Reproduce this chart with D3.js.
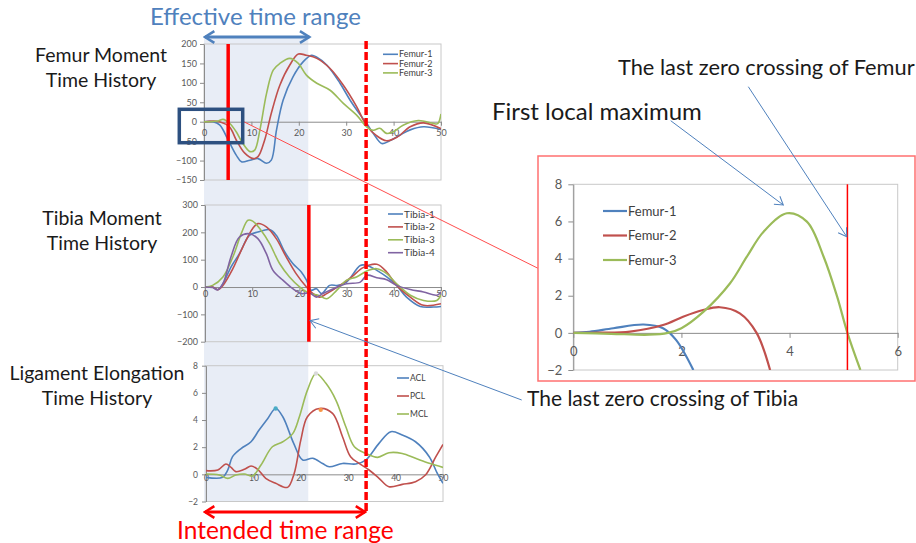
<!DOCTYPE html>
<html>
<head>
<meta charset="utf-8">
<script src="https://cdn.jsdelivr.net/npm/d3@7"></script>
<style>
body { margin: 0; background: #fff; }
text { font-family: Lato, "Liberation Sans", sans-serif; }
</style>
</head>
<body>
<div id="chart"></div>
<script>
// ---- data: [time, value] ----
var timeTicks = [0, 10, 20, 30, 40, 50];

var femurNames = ["Femur-1", "Femur-2", "Femur-3"];
var femurTicks = [-150, -100, -50, 0, 50, 100, 150, 200];
var femur1 = [[0,0],[1.9,0],[3.3,-8],[5.1,-47],[6.8,-86],[7.9,-103],[9.7,-99],[11.4,-95],[13.2,-107],[14.2,-99],[15.3,-21],[16.7,56],[18.8,116],[20.9,154],[22.7,171],[23.8,166],[25.9,146],[28.7,99],[30.8,56],[33.0,17],[34.3,-4],[35.7,-30],[37.5,-56],[38.9,-51],[41.4,-34],[43.5,-21],[46.3,-13],[50,-20]];
var femur2 = [[0,0],[3.3,0],[5.4,-14],[6.8,-47],[8.6,-81],[10.4,-95],[11.4,-90],[12.8,-47],[14.2,22],[16.0,94],[18.1,146],[19.9,174],[21.6,171],[23.8,163],[26.6,137],[29.4,94],[32.2,39],[34.3,-10],[36.4,-36],[38.5,-49],[40.7,-40],[43.5,-13],[46.3,-3],[50,-18]];
var femur3 = [[0,0],[3,2],[4,6],[5.4,-4],[6.8,-26],[8.2,-56],[9.7,-77],[10.7,-73],[11.8,-21],[13.2,73],[14.6,133],[16.0,150],[18.1,163],[19.9,150],[21.6,120],[23.8,99],[26.6,81],[29.4,47],[32.2,17],[34.3,-13],[35.7,-22],[37.1,-17],[38.5,-30],[39.9,-26],[42.0,-9],[45.2,3],[48.3,-4],[49.3,-5],[50,20]];

var tibiaNames = ["Tibia-1", "Tibia-2", "Tibia-3", "Tibia-4"];
var tibiaTicks = [-200, -100, 0, 100, 200, 300];
var tibia1 = [[0,0],[1.6,0],[2.7,-10],[3.8,12],[5.5,73],[7.3,122],[9.4,189],[11.2,201],[13.7,210],[15.1,189],[16.9,128],[18.6,86],[20.4,55],[21.5,25],[22.5,-12],[23.6,-6],[24.7,-24],[26.4,6],[28.2,6],[30.0,18],[32.9,79],[34.3,79],[36.4,61],[38.5,37],[40.6,6],[42.7,-37],[45.6,-71],[48.4,-73],[50,-71]];
var tibia2 = [[0,0],[1.6,0],[2.7,-10],[3.8,6],[5.9,67],[8.0,146],[10.1,214],[11.2,232],[13.0,220],[15.1,177],[17.2,110],[19.3,49],[21.5,0],[22.9,-24],[24.3,-37],[25.8,-24],[28.6,6],[31.1,37],[33.5,71],[36.4,83],[38.5,55],[40.6,6],[43.5,-37],[46.3,-67],[50,-61]];
var tibia3 = [[0,0],[1.6,6],[3.8,37],[5.9,110],[7.7,196],[9.1,244],[10.1,241],[11.9,207],[13.7,159],[15.8,86],[17.9,37],[20.1,0],[22.2,-24],[24.0,-30],[25.8,-43],[27.9,-12],[30.0,25],[32.1,37],[34.6,61],[36.4,67],[38.5,49],[40.6,12],[43.5,-30],[46.3,-49],[49.1,-49],[50,-30]];
var tibia4 = [[0,0],[1.6,-2],[2.7,-10],[3.8,12],[5.5,110],[7.3,183],[9.4,195],[11.2,177],[13.0,122],[14.4,61],[16.5,25],[18.6,-6],[20.4,-24],[22.2,-22],[23.6,-37],[25.0,-24],[27.2,-6],[30.0,12],[32.9,18],[34.3,43],[36.4,34],[38.5,27],[40.6,6],[43.5,-9],[46.3,-18],[49.1,-30],[50,-18]];

var ligNames = ["ACL", "PCL", "MCL"];
var ligTicks = [-2, 0, 2, 4, 6, 8];
var acl = [[0,-0.22],[3.5,-0.22],[4.6,0.32],[5.6,1.3],[7.4,1.9],[9.5,2.4],[11.2,3.26],[13.0,4.1],[14.7,4.85],[16.2,4.24],[18.5,2.28],[20.4,1.05],[22.5,1.18],[24.6,0.8],[26.0,0.56],[28.8,0.8],[31.6,0.76],[33.7,1.05],[36.5,2.28],[39.0,3.14],[41.4,2.9],[44.2,2.4],[47.1,1.3],[48.8,0.07],[50,-0.66]];
var pcl = [[0,0.27],[2.5,0.32],[4.2,0.76],[5.3,0.51],[6.3,0.2],[8.1,0.37],[9.5,0.61],[10.9,0.37],[12.6,-0.29],[14.7,-0.66],[17.2,-0.96],[18.6,0.07],[20.0,2.52],[21.4,4.24],[23.9,4.85],[26.7,4.49],[28.8,2.77],[30.5,1.3],[32.3,0.81],[34.4,0.32],[36.5,-0.29],[38.6,-0.91],[41.4,-0.74],[44.2,-0.54],[46.3,-0.05],[48.5,1.3],[50,2.2]];
var mcl = [[0,0.02],[2.8,-0.05],[4.6,-0.3],[6.3,-0.05],[8.1,0.02],[9.8,-0.12],[11.6,0.69],[14.0,2.03],[16.2,2.4],[18.3,3.0],[19.7,4.24],[21.4,6.2],[23.2,7.43],[25.3,6.7],[27.4,5.47],[29.5,3.5],[31.3,2.03],[33.7,1.54],[36.2,1.25],[38.6,1.59],[41.4,1.54],[44.2,1.18],[47.1,0.81],[50,0.51]];
var ligPeaks = [[14.7,4.85],[24.2,4.75],[23.2,7.43]];

// close-up of the first few time units of the femur moments
var zoomTimeTicks = [0, 2, 4, 6];
var zoomTicks = [-2, 0, 2, 4, 6, 8];
var zoomFemur1 = [[0,0],[0.3,0.06],[0.74,0.25],[1.3,0.45],[1.66,0.25],[1.9,-0.38],[2.22,-2]];
var zoomFemur2 = [[0,0],[0.5,0.01],[1.05,0.07],[1.66,0.42],[2.03,0.87],[2.4,1.23],[2.71,1.38],[3.08,1.05],[3.39,0],[3.64,-2]];
var zoomFemur3 = [[0,0],[0.7,-0.05],[1.4,-0.1],[1.75,0],[2.0,0.25],[2.41,1.14],[2.9,2.67],[3.21,4.1],[3.52,5.45],[3.95,6.44],[4.32,5.99],[4.63,4.1],[4.88,1.95],[5.07,0],[5.31,-2]];

var effectiveRange = [0, 22];
var intendedRange = [0, 34.2];
var femurZeroCross = 5.1;
var tibiaZeroCross = 22;
var zoomZeroCross = 5.07;

var colors = ["#4f81bd", "#c0504d", "#9bbb59", "#8064a2"];
var peakColors = ["#4bacc6", "#f79646", "#d9d9d9"];

var svg = d3.select('#chart').append('svg')
  .attr('width', 916)
  .attr('height', 543);

var defs = svg.append('defs');
function arrowMarker(id, color, size, sw) {
  defs.append('marker')
    .attr('id', id)
    .attr('viewBox', '-10 -6 12 12')
    .attr('refX', 0).attr('refY', 0)
    .attr('markerWidth', size).attr('markerHeight', size)
    .attr('markerUnits', 'userSpaceOnUse')
    .attr('orient', 'auto-start-reverse')
    .append('path')
    .attr('d', 'M-8,-5 L0,0 L-8,5')
    .attr('fill', 'none')
    .attr('stroke', color)
    .attr('stroke-width', sw);
}
arrowMarker('arrBlueBig', '#4f81bd', 14, 2.2);
arrowMarker('arrRedBig', '#ff0000', 14, 2.2);
arrowMarker('arrBlueThin', '#4f81bd', 12, 1);

// shaded effective range (drawn first, behind everything)
var shade = svg.append('rect')
  .attr('y', 38)
  .attr('height', 464)
  .attr('fill', '#e8edf6');

function drawPanel(cfg) {
  var x = d3.scaleLinear().domain(cfg.xDomain).range(cfg.xRange);
  var y = d3.scaleLinear().domain(cfg.yDomain).range(cfg.yRange);
  var g = svg.append('g');

  g.append('clipPath').attr('id', 'clip' + cfg.id)
    .append('rect')
    .attr('x', cfg.xRange[0]).attr('y', cfg.yRange[1])
    .attr('width', cfg.xRange[1] - cfg.xRange[0])
    .attr('height', cfg.yRange[0] - cfg.yRange[1]);

  g.append('rect')
    .attr('x', cfg.xRange[0]).attr('y', cfg.yRange[1])
    .attr('width', cfg.xRange[1] - cfg.xRange[0])
    .attr('height', cfg.yRange[0] - cfg.yRange[1])
    .attr('fill', 'none')
    .attr('stroke', '#c8c8c8');

  var yAxis = d3.axisLeft(y).tickValues(cfg.yTicks).tickFormat(d3.format('d'))
    .tickSize(cfg.tick).tickSizeOuter(0).tickPadding(cfg.yPad);
  var ya = g.append('g')
    .attr('transform', 'translate(' + cfg.xRange[0] + ',0)')
    .call(yAxis);

  var xAxis = d3.axisBottom(x).tickValues(cfg.xTicks).tickFormat(d3.format('d'))
    .tickSize(cfg.tick).tickSizeOuter(0).tickPadding(cfg.xPad);
  var xa = g.append('g')
    .attr('transform', 'translate(0,' + y(0) + ')')
    .call(xAxis);

  [ya, xa].forEach(function(a) {
    a.select('.domain').attr('stroke', '#8c8c8c');
    a.selectAll('.tick line').attr('stroke', '#8c8c8c');
    a.selectAll('.tick text')
      .attr('fill', '#595959')
      .style('font-size', cfg.tickFont + 'px');
  });

  var line = d3.line()
    .curve(d3.curveCatmullRom.alpha(0.5))
    .x(function(d) { return x(d[0]); })
    .y(function(d) { return y(d[1]); });

  g.append('g').attr('clip-path', 'url(#clip' + cfg.id + ')')
    .selectAll('path')
    .data(cfg.series)
    .enter()
    .append('path')
    .attr('d', function(d) { return line(d.values); })
    .attr('fill', 'none')
    .attr('stroke', function(d, i) { return colors[i]; })
    .attr('stroke-width', cfg.lw);

  // legend
  var lg = g.selectAll('.leg')
    .data(cfg.series)
    .enter()
    .append('g')
    .attr('transform', function(d, i) {
      return 'translate(' + cfg.legend[0] + ',' + (cfg.legend[1] + i * cfg.legend[2]) + ')';
    });
  lg.append('line')
    .attr('x1', 0).attr('x2', cfg.legend[3])
    .attr('stroke', function(d, i) { return colors[i]; })
    .attr('stroke-width', cfg.lw);
  lg.append('text')
    .attr('x', cfg.legend[3] + 1)
    .attr('dy', '0.35em')
    .attr('fill', '#404040')
    .style('font-size', cfg.legend[4] + 'px')
    .text(function(d) { return d.name; });

  return { x: x, y: y, g: g };
}

var femur = drawPanel({
  id: 'femur', xDomain: [0, 50], xRange: [204, 441],
  yDomain: [-150, 200], yRange: [180, 44],
  xTicks: timeTicks, yTicks: femurTicks, tick: 4, yPad: 3, xPad: 4, tickFont: 9, lw: 1.6,
  series: [femur1, femur2, femur3].map(function(v, i) { return { name: femurNames[i], values: v }; }),
  legend: [383, 54.3, 9.3, 15, 9]
});

var tibia = drawPanel({
  id: 'tibia', xDomain: [0, 50], xRange: [205, 441],
  yDomain: [-200, 300], yRange: [341.7, 205],
  xTicks: timeTicks, yTicks: tibiaTicks, tick: 4, yPad: 3, xPad: 0, tickFont: 9, lw: 1.6,
  series: [tibia1, tibia2, tibia3, tibia4].map(function(v, i) { return { name: tibiaNames[i], values: v }; }),
  legend: [388, 214, 12.9, 15, 10]
});

var lig = drawPanel({
  id: 'lig', xDomain: [0, 50], xRange: [206, 443],
  yDomain: [-2, 8], yRange: [501.5, 365.7],
  xTicks: timeTicks, yTicks: ligTicks, tick: 4, yPad: 4, xPad: -3, tickFont: 8.5, lw: 1.6,
  series: [acl, pcl, mcl].map(function(v, i) { return { name: ligNames[i], values: v }; }),
  legend: [397, 378, 18, 12, 8.5]
});

lig.g.selectAll('.peak')
  .data(ligPeaks)
  .enter()
  .append('circle')
  .attr('cx', function(d) { return lig.x(d[0]); })
  .attr('cy', function(d) { return lig.y(d[1]); })
  .attr('r', 2.2)
  .attr('fill', function(d, i) { return peakColors[i]; });

shade
  .attr('x', femur.x(effectiveRange[0]))
  .attr('width', femur.x(effectiveRange[1]) - femur.x(effectiveRange[0]));

// red markers of the zero crossings
svg.append('line')
  .attr('x1', femur.x(femurZeroCross)).attr('x2', femur.x(femurZeroCross))
  .attr('y1', 44).attr('y2', 180)
  .attr('stroke', '#ff0000').attr('stroke-width', 3.5);
svg.append('line')
  .attr('x1', tibia.x(tibiaZeroCross)).attr('x2', tibia.x(tibiaZeroCross))
  .attr('y1', 205).attr('y2', 341.7)
  .attr('stroke', '#ff0000').attr('stroke-width', 3.5);
svg.append('line')
  .attr('x1', femur.x(intendedRange[1])).attr('x2', femur.x(intendedRange[1]))
  .attr('y1', 41).attr('y2', 512)
  .attr('stroke', '#ff0000').attr('stroke-width', 3.5)
  .attr('stroke-dasharray', '8,3');

// range arrows
svg.append('line')
  .attr('x1', femur.x(effectiveRange[0]) + 1).attr('x2', femur.x(effectiveRange[1]) + 1)
  .attr('y1', 37).attr('y2', 37)
  .attr('stroke', '#4f81bd').attr('stroke-width', 3)
  .attr('marker-start', 'url(#arrBlueBig)').attr('marker-end', 'url(#arrBlueBig)');
svg.append('line')
  .attr('x1', femur.x(intendedRange[0]) + 1).attr('x2', femur.x(intendedRange[1]) - 1)
  .attr('y1', 512).attr('y2', 512)
  .attr('stroke', '#ff0000').attr('stroke-width', 3)
  .attr('marker-start', 'url(#arrRedBig)').attr('marker-end', 'url(#arrRedBig)');

svg.append('text')
  .attr('x', 150).attr('y', 25)
  .attr('fill', '#4f81bd')
  .style('font-size', '24px')
  .text('Effective time range');
svg.append('text')
  .attr('x', 177).attr('y', 539)
  .attr('fill', '#ff0000')
  .style('font-size', '24.5px')
  .text('Intended time range');

// panel titles
var titles = [
  ['Femur Moment', 'Time History', 101, 61.7],
  ['Tibia Moment', 'Time History', 102, 225],
  ['Ligament Elongation', 'Time History', 97, 380]
];
titles.forEach(function(t) {
  var tx = svg.append('text')
    .attr('text-anchor', 'middle')
    .attr('fill', '#1a1a1a')
    .style('font-size', '19.5px');
  tx.append('tspan').attr('x', t[2]).attr('y', t[3]).text(t[0]);
  tx.append('tspan').attr('x', t[2]).attr('y', t[3] + 25).text(t[1]);
});

// close-up box in the femur panel and its connector
svg.append('line')
  .attr('x1', 241.7).attr('y1', 120.7)
  .attr('x2', 538).attr('y2', 268.3)
  .attr('stroke', '#ff4d4d').attr('stroke-width', 1);
svg.append('rect')
  .attr('x', 179.3).attr('y', 109.3)
  .attr('width', 63.4).attr('height', 33.4)
  .attr('fill', 'none')
  .attr('stroke', '#2d5080').attr('stroke-width', 3.5);

// inset close-up
svg.append('rect')
  .attr('x', 538).attr('y', 156)
  .attr('width', 377).attr('height', 225)
  .attr('fill', '#fff')
  .attr('stroke', '#ff7070').attr('stroke-width', 1.5);

var inset = drawPanel({
  id: 'zoom', xDomain: [0, 6], xRange: [573.3, 897.7],
  yDomain: [-2, 8], yRange: [370, 184.3],
  xTicks: zoomTimeTicks, yTicks: zoomTicks, tick: 5, yPad: 6, xPad: 9, tickFont: 13, lw: 2.2,
  series: [zoomFemur1, zoomFemur2, zoomFemur3].map(function(v, i) { return { name: femurNames[i], values: v }; }),
  legend: [603, 211, 24.5, 24, 13]
});
svg.append('line')
  .attr('x1', inset.x(zoomZeroCross)).attr('x2', inset.x(zoomZeroCross))
  .attr('y1', 184.3).attr('y2', 370)
  .attr('stroke', '#ff0000').attr('stroke-width', 1.5);

// annotations
var notes = [
  ['The last zero crossing of Femur', 618, 75, 21.8],
  ['First local maximum', 492, 120, 24],
  ['The last zero crossing of Tibia', 527, 406, 21]
];
notes.forEach(function(n) {
  svg.append('text')
    .attr('x', n[1]).attr('y', n[2])
    .attr('fill', '#1a1a1a')
    .style('font-size', n[3] + 'px')
    .text(n[0]);
});

var pointers = [
  [670.7, 120.7, 783.3, 205],
  [748.3, 86.7, 846.7, 236.7],
  [521.7, 400, 310, 320.7]
];
pointers.forEach(function(p) {
  svg.append('line')
    .attr('x1', p[0]).attr('y1', p[1])
    .attr('x2', p[2]).attr('y2', p[3])
    .attr('stroke', '#4f81bd').attr('stroke-width', 1)
    .attr('marker-end', 'url(#arrBlueThin)');
});
</script>
</body>
</html>
